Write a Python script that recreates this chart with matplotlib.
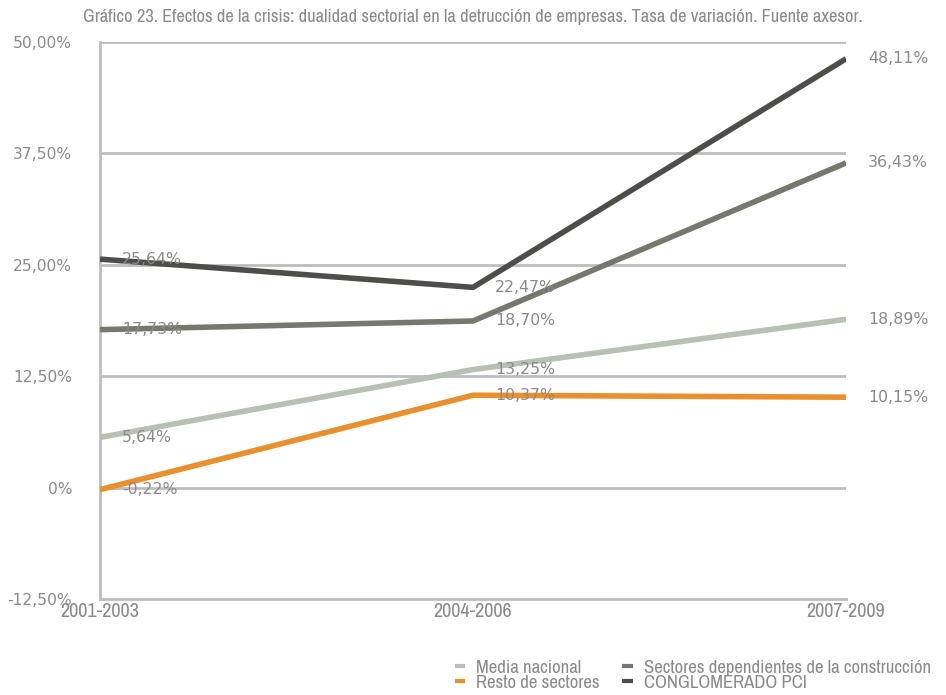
import matplotlib
matplotlib.use("Agg")
import matplotlib.pyplot as plt
from matplotlib import font_manager
from matplotlib.ticker import FuncFormatter

# periods and series (tasa de variación, %)
periods = ["2001-2003", "2004-2006", "2007-2009"]
media_nacional = [5.64, 13.25, 18.89]
resto_sectores = [-0.22, 10.37, 10.15]
sectores_construccion = [17.73, 18.70, 36.43]
conglomerado_pci = [25.64, 22.47, 48.11]

yticks = [-12.5, 0, 12.5, 25, 37.5, 50]

title = ("Gráfico 23. Efectos de la crisis: dualidad sectorial en la detrucción "
         "de empresas. Tasa de variación. Fuente axesor.")

text_grey = "#8a8a8a"
grid_grey = "#bdbdbd"

series = [
    ("Media nacional", media_nacional, "#b8bfb3"),
    ("Resto de sectores", resto_sectores, "#e98f2c"),
    ("Sectores dependientes de la construcción", sectores_construccion, "#74786f"),
    ("CONGLOMERADO PCI", conglomerado_pci, "#4c4e4a"),
]


def pick_narrow():
    # look for a condensed face among the installed fonts
    fonts = font_manager.fontManager.ttflist
    for f in fonts:
        if "Narrow" in f.name or "Condensed" in f.name:
            return {"family": [f.name, "DejaVu Sans"]}
    for f in fonts:
        if str(f.stretch) in ("condensed", "semi-condensed", "75", "87"):
            return {"family": [f.name, "DejaVu Sans"], "stretch": "condensed"}
    return {"family": ["DejaVu Sans"]}


narrow = pick_narrow()


def nfont(size):
    return font_manager.FontProperties(size=size, weight="light", **narrow)


def pct(v):
    # spanish style percentages: comma as decimal separator
    return ("%.2f%%" % v).replace(".", ",")


fig = plt.figure(figsize=(9.46, 6.95), dpi=100)
ax = fig.add_axes([0.1057, 0.138, 0.7886, 0.8016])

x = list(range(len(periods)))
handles = []
for name, vals, col in series:
    h, = ax.plot(x, vals, color=col, lw=4, solid_capstyle="butt", zorder=3)
    handles.append(h)
    for xi, v in zip(x, vals):
        ax.annotate(pct(v), (xi, v), xytext=(16, 0), textcoords="offset points",
                    ha="left", va="center", fontsize=11.3, color=text_grey,
                    zorder=4)

ax.set_xlim(0, 2)
ax.set_ylim(-12.5, 50)
ax.set_yticks(yticks)
ax.yaxis.set_major_formatter(FuncFormatter(
    lambda v, p: "0%" if v == 0 else pct(v)))
ax.set_xticks(x)
ax.set_xticklabels(periods)
for lab in ax.get_xticklabels():
    lab.set_color(text_grey)
    lab.set_fontproperties(nfont(14.5))
for lab in ax.get_yticklabels():
    lab.set_color(text_grey)
    lab.set_fontsize(11.2)

# horizontal grid only
for yv in yticks[1:]:
    ax.axhline(yv, color=grid_grey, lw=2, zorder=1)

for s in ["top", "right"]:
    ax.spines[s].set_visible(False)
for s in ["left", "bottom"]:
    ax.spines[s].set_color(grid_grey)
    ax.spines[s].set_linewidth(2)
ax.tick_params(length=0)
ax.tick_params(axis="y", pad=20)
ax.tick_params(axis="x", pad=2)

fig.text(0.5, 0.975, title, color=text_grey, ha="center", va="center",
         fontproperties=nfont(13.3))

leg = fig.legend(handles, [s[0] for s in series],
                 loc="lower right", bbox_to_anchor=(0.996, -0.01), ncol=2,
                 frameon=False, handlelength=0.55, handletextpad=0.6,
                 columnspacing=1.2, labelspacing=-0.05, borderpad=0.1,
                 prop=nfont(13.5))
for t in leg.get_texts():
    t.set_color(text_grey)
for h in leg.legend_handles:
    h.set_linewidth(3)

fig.savefig("out.png", dpi=100)
